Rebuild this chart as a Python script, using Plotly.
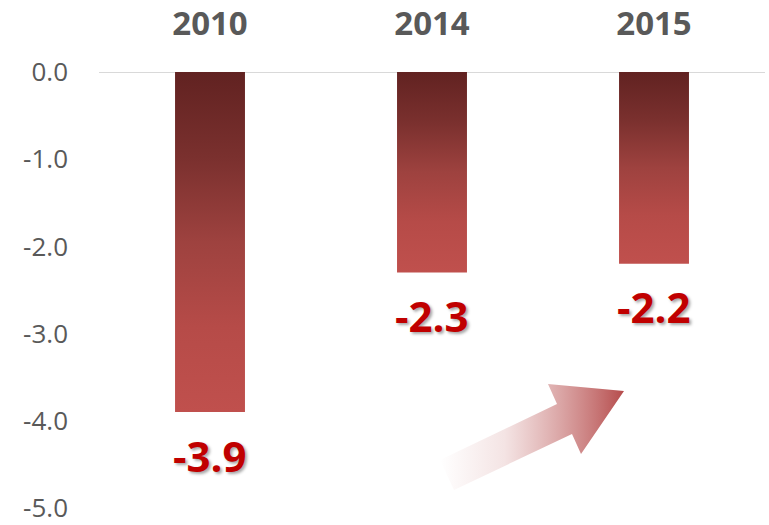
import plotly.graph_objects as go

# ---- data ----
years = ["2010", "2014", "2015"]
values = [-3.9, -2.3, -2.2]
y_tickvals = [0, -1, -2, -3, -4, -5]
y_ticktext = ["0.0", "-1.0", "-2.0", "-3.0", "-4.0", "-5.0"]

# ---- geometry ----
W, H = 769, 525
M_L, M_R, M_T, M_B = 99, 4, 72, 17
BAR_W = 0.315
X_RANGE = [-0.5, 2.5]
Y_RANGE = [-5.0, 0.0]

plot_w = W - M_L - M_R
plot_h = H - M_T - M_B


def px_to_data(px, py):
    """Convert page pixel position to data coordinates (for decoration only)."""
    x = X_RANGE[0] + (px - M_L) / plot_w * (X_RANGE[1] - X_RANGE[0])
    y = Y_RANGE[1] - (py - M_T) / plot_h * (Y_RANGE[1] - Y_RANGE[0])
    return x, y


bar_scale = [
    [0.0, "#C0504D"],
    [0.25, "#B64B48"],
    [0.5, "#9E423F"],
    [0.75, "#7A302E"],
    [1.0, "#612221"],
]

fig = go.Figure()

# decorative arrow (pixel-designed, converted to data space)
arrow_px = [(440, 460), (557, 404), (548, 384), (624, 391), (581, 454), (572, 434), (454, 490), (440, 460)]
ax, ay = zip(*[px_to_data(p, q) for p, q in arrow_px])
fig.add_trace(go.Scatter(
    x=list(ax), y=list(ay), mode="lines", fill="toself",
    line=dict(width=0, color="rgba(0,0,0,0)"),
    fillgradient=dict(type="horizontal", colorscale=[
        [0.0, "rgba(200,120,120,0)"],
        [0.35, "rgba(200,120,120,0.2)"],
        [0.75, "rgba(190,95,95,0.7)"],
        [1.0, "rgba(175,60,60,0.92)"],
    ]),
    hoverinfo="skip", showlegend=False,
))

# gradient bars
for i, v in enumerate(values):
    x0, x1 = i - BAR_W / 2, i + BAR_W / 2
    fig.add_trace(go.Scatter(
        x=[x0, x1, x1, x0, x0], y=[0, 0, v, v, 0],
        mode="lines", fill="toself",
        line=dict(width=0, color="rgba(0,0,0,0)"),
        fillgradient=dict(type="vertical", colorscale=bar_scale),
        hoverinfo="skip", showlegend=False,
    ))

# data labels
for i, v in enumerate(values):
    fig.add_annotation(
        x=i, y=v, text=f"{v:.1f}", showarrow=False,
        yanchor="middle", yshift=-43,
        font=dict(family="Open Sans", size=42, color="#C00000", weight="bold",
                  shadow="2px 2px 3px rgba(0,0,0,0.35)"),
    )

fig.update_layout(
    width=W, height=H,
    margin=dict(l=M_L, r=M_R, t=M_T, b=M_B),
    plot_bgcolor="white", paper_bgcolor="white",
    xaxis=dict(
        range=X_RANGE, side="top", tickmode="array",
        tickvals=list(range(len(years))), ticktext=years,
        showgrid=False, zeroline=False, showline=False, ticks="",
        ticklabelstandoff=29, automargin=False, ticklabeloverflow="allow",
        tickfont=dict(family="Open Sans", size=33, color="#595959", weight="bold"),
    ),
    yaxis=dict(
        range=Y_RANGE, tickmode="array", tickvals=y_tickvals, ticktext=y_ticktext,
        showgrid=False, zeroline=False, showline=False, ticks="",
        ticklabelstandoff=30, automargin=False, ticklabeloverflow="allow",
        tickfont=dict(family="Open Sans", size=26, color="#595959"),
    ),
    shapes=[dict(type="line", xref="paper", yref="y", x0=0, x1=1, y0=0, y1=0,
                 line=dict(color="#D9D9D9", width=2), layer="below")],
)

fig.write_html("out.html",
               config={"displayModeBar": False},
               post_script="document.body.style.margin='0';document.body.style.overflow='hidden';")
